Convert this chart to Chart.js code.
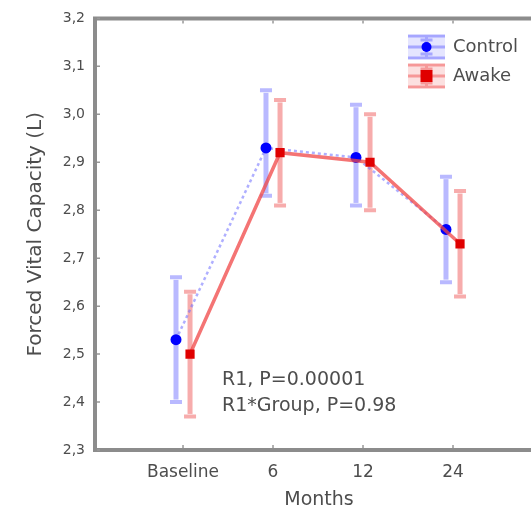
<!DOCTYPE html>
<html>
<head>
	<meta charset="utf-8">
	<title>Forced Vital Capacity</title>
	<script src="https://cdn.jsdelivr.net/npm/chart.js"></script>
	<style>
		html, body { margin: 0; padding: 0; background: #fff; overflow: hidden; }
		#wrap { width: 560px; height: 518px; }
	</style>
</head>
<body>
<div id="wrap"><canvas id="fvcChart" width="560" height="518"></canvas></div>
<script>
// values
const categories = ["Baseline", "6", "12", "24"];
const controlMean  = [2.53, 2.93, 2.91, 2.76];
const controlUpper = [2.66, 3.05, 3.02, 2.87];
const controlLower = [2.40, 2.83, 2.81, 2.65];
const awakeMean    = [2.50, 2.92, 2.90, 2.73];
const awakeUpper   = [2.63, 3.03, 3.00, 2.84];
const awakeLower   = [2.37, 2.81, 2.80, 2.62];
const yTicks = [2.3, 2.4, 2.5, 2.6, 2.7, 2.8, 2.9, 3.0, 3.1, 3.2];
const statLines = ["R1, P=0.00001", "R1*Group, P=0.98"];

const FONT = "'DejaVu Sans', sans-serif";
const TXT = "#4d4d4d";
const SHIFT = 0.078; // side by side offset of the two groups

function points(vals, dx) {
	return vals.map((v, i) => ({ x: i + dx, y: v }));
}

// error bars, frame, legend and the statistics text
const extras = {
	id: "extras",
	beforeDatasetsDraw(chart) {
		const ctx = chart.ctx;
		const xs = chart.scales.x, ys = chart.scales.y;
		const bars = [
			{ lo: controlLower, hi: controlUpper, dx: -SHIFT, col: "rgba(100,100,255,0.45)" },
			{ lo: awakeLower, hi: awakeUpper, dx: SHIFT, col: "rgba(240,90,90,0.5)" }
		];
		ctx.save();
		ctx.lineWidth = 5;
		for (const b of bars) {
			ctx.strokeStyle = b.col;
			for (let i = 0; i < categories.length; i++) {
				const px = xs.getPixelForValue(i + b.dx);
				const y1 = ys.getPixelForValue(b.hi[i]);
				const y2 = ys.getPixelForValue(b.lo[i]);
				ctx.beginPath();
				ctx.moveTo(px, y1 + 2.5); ctx.lineTo(px, y2 - 2.5);
				ctx.stroke();
				ctx.lineWidth = 4;
				ctx.beginPath();
				ctx.moveTo(px - 6, y1); ctx.lineTo(px + 6, y1);
				ctx.moveTo(px - 6, y2); ctx.lineTo(px + 6, y2);
				ctx.stroke();
				ctx.lineWidth = 5;
			}
		}
		ctx.restore();
	},
	afterDraw(chart) {
		const ctx = chart.ctx;
		const a = chart.chartArea;
		const xs = chart.scales.x, ys = chart.scales.y;
		ctx.save();
		// frame: left, top, bottom
		ctx.strokeStyle = "#8c8c8c";
		ctx.lineWidth = 4;
		ctx.beginPath();
		ctx.moveTo(chart.width, a.top); ctx.lineTo(a.left, a.top);
		ctx.lineTo(a.left, a.bottom); ctx.lineTo(chart.width, a.bottom);
		ctx.stroke();
		// little tick marks
		ctx.strokeStyle = "#999";
		ctx.lineWidth = 1.5;
		ctx.beginPath();
		for (let i = 0; i < categories.length; i++) {
			const px = xs.getPixelForValue(i);
			ctx.moveTo(px, a.top + 2); ctx.lineTo(px, a.top + 5);
			ctx.moveTo(px, a.bottom - 2); ctx.lineTo(px, a.bottom - 5);
		}
		for (const t of yTicks) {
			const py = ys.getPixelForValue(t);
			ctx.moveTo(a.left + 2, py); ctx.lineTo(a.left + 5, py);
		}
		ctx.stroke();

		// legend
		const rows = [
			{ name: "Control", y: 47, dark: "#0000ff", light: "rgba(90,90,255,0.45)", shape: "circle" },
			{ name: "Awake", y: 76, dark: "#e00000", light: "rgba(240,80,80,0.5)", shape: "rect" }
		];
		const lx0 = 408, lx1 = 445, lc = (lx0 + lx1) / 2;
		for (const r of rows) {
			ctx.fillStyle = r.light;
			ctx.globalAlpha = 0.35;
			ctx.fillRect(lx0, r.y - 12, lx1 - lx0, 24);
			ctx.globalAlpha = 1;
			ctx.strokeStyle = r.light;
			ctx.lineWidth = 3;
			ctx.beginPath();
			ctx.moveTo(lx0, r.y - 11); ctx.lineTo(lx1, r.y - 11);
			ctx.moveTo(lx0, r.y + 11); ctx.lineTo(lx1, r.y + 11);
			ctx.moveTo(lx0, r.y); ctx.lineTo(lx1, r.y);
			ctx.moveTo(lc, r.y - 11); ctx.lineTo(lc, r.y + 11);
			ctx.moveTo(lc - 6, r.y - 7); ctx.lineTo(lc + 6, r.y - 7);
			ctx.moveTo(lc - 6, r.y + 7); ctx.lineTo(lc + 6, r.y + 7);
			ctx.stroke();
			ctx.fillStyle = r.dark;
			ctx.beginPath();
			if (r.shape === "circle") ctx.arc(lc, r.y, 5, 0, 2 * Math.PI);
			else ctx.rect(lc - 6, r.y - 6, 12, 12);
			ctx.fill();
			ctx.fillStyle = TXT;
			ctx.font = "18px " + FONT;
			ctx.textBaseline = "middle";
			ctx.textAlign = "left";
			ctx.fillText(r.name, 453, r.y);
		}

		// statistics
		ctx.fillStyle = TXT;
		ctx.font = "19px " + FONT;
		ctx.textBaseline = "middle";
		ctx.fillText(statLines[0], 222, 380);
		ctx.fillText(statLines[1], 222, 406);
		ctx.restore();
	}
};

const chart = new Chart(document.getElementById("fvcChart"), {
	type: "scatter",
	data: {
		datasets: [
			{
				label: "Awake",
				order: 0,
				data: points(awakeMean, SHIFT),
				showLine: true,
				borderColor: "rgba(240,70,70,0.75)",
				borderWidth: 3.5,
				pointStyle: "rect",
				pointRadius: 6.5,
				pointBackgroundColor: "#e00000",
				pointBorderColor: "#e00000",
				pointBorderWidth: 0
			},
			{
				label: "Control",
				order: 1,
				data: points(controlMean, -SHIFT),
				showLine: true,
				borderColor: "rgba(110,110,255,0.55)",
				borderWidth: 2.5,
				borderDash: [3, 3],
				pointStyle: "circle",
				pointRadius: 5.5,
				pointBackgroundColor: "#0000ff",
				pointBorderColor: "#0000ff",
				pointBorderWidth: 0
			}
		]
	},
	options: {
		responsive: false,
		animation: false,
		layout: { padding: { top: 17, right: 17, left: 0, bottom: 0 } },
		plugins: { legend: { display: false }, tooltip: { enabled: false } },
		scales: {
			x: {
				type: "linear",
				min: -0.978,
				max: 4,
				afterFit(scale) { scale.height = 68; },
				afterBuildTicks(scale) {
					scale.ticks = categories.map((c, i) => ({ value: i }));
				},
				grid: { display: false, drawTicks: false },
				border: { display: false },
				ticks: {
					padding: 12,
					color: TXT,
					font: { family: FONT, size: 17 },
					maxRotation: 0,
					autoSkip: false,
					callback: (v) => categories[v] ?? ""
				},
				title: {
					display: true,
					text: "Months",
					color: TXT,
					font: { family: FONT, size: 19 },
					padding: { top: 0, bottom: 7 }
				}
			},
			y: {
				min: 2.3,
				max: 3.2,
				afterFit(scale) { scale.width = 95; },
				afterBuildTicks(scale) {
					scale.ticks = yTicks.map((v) => ({ value: v }));
				},
				grid: { display: false, drawTicks: false },
				border: { display: false },
				ticks: {
					padding: 10,
					color: TXT,
					font: { family: FONT, size: 14 },
					callback: (v) => v.toFixed(1).replace(".", ",")
				},
				title: {
					display: true,
					text: "Forced Vital Capacity (L)",
					color: TXT,
					font: { family: FONT, size: 20 },
					padding: { top: 24, bottom: 0 }
				}
			}
		}
	},
	plugins: [extras]
});
</script>
</body>
</html>
